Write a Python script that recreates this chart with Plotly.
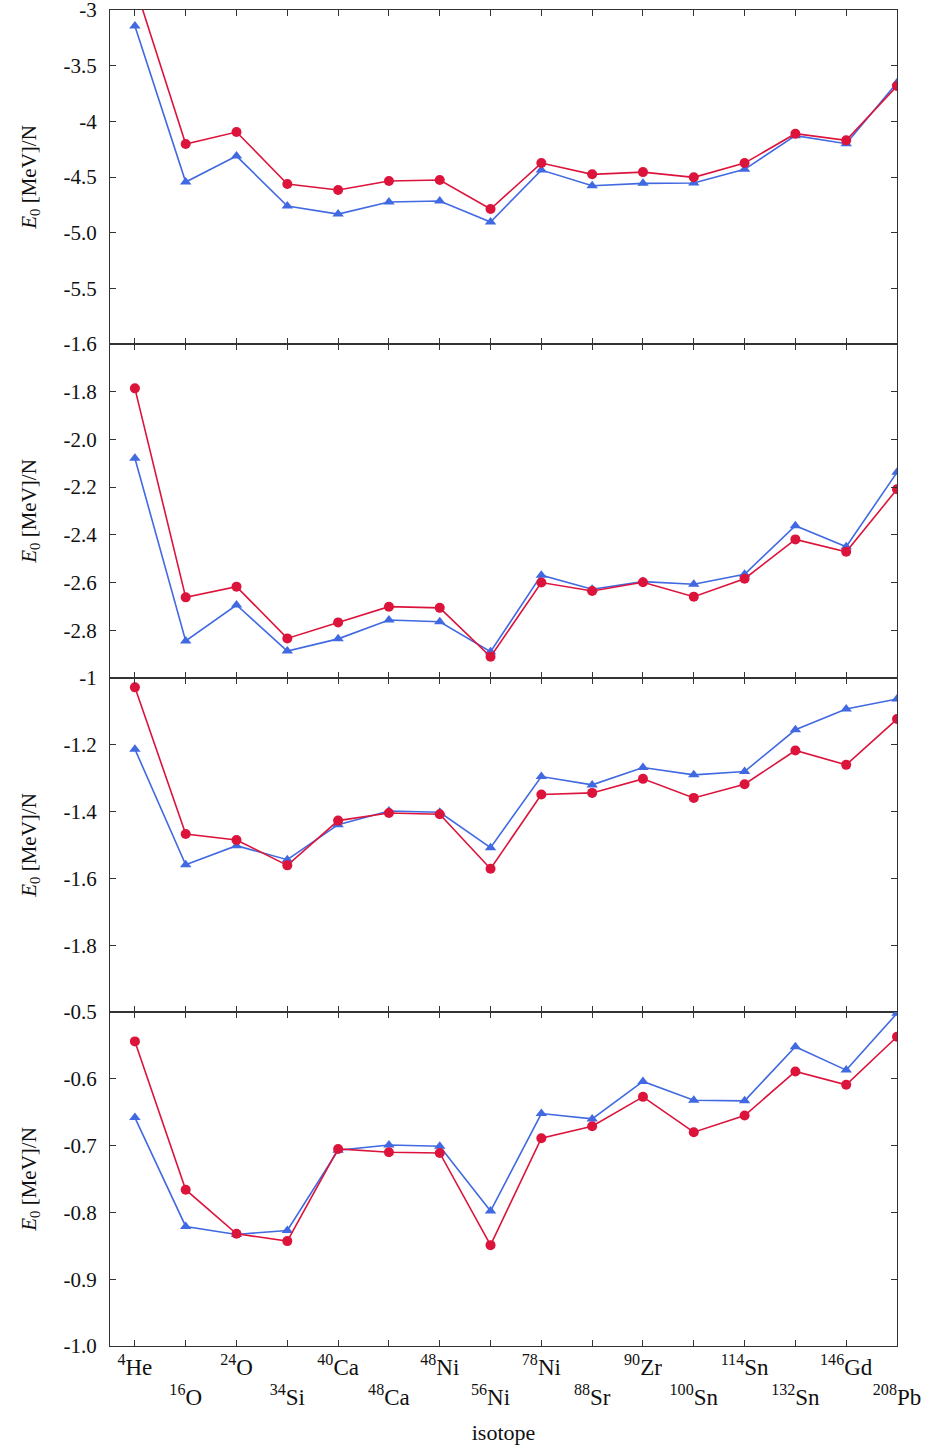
import plotly.graph_objects as go
from plotly.subplots import make_subplots

isotopes = ["<sup>4</sup>He", "<sup>16</sup>O", "<sup>24</sup>O", "<sup>34</sup>Si",
            "<sup>40</sup>Ca", "<sup>48</sup>Ca", "<sup>48</sup>Ni", "<sup>56</sup>Ni",
            "<sup>78</sup>Ni", "<sup>88</sup>Sr", "<sup>90</sup>Zr", "<sup>100</sup>Sn",
            "<sup>114</sup>Sn", "<sup>132</sup>Sn", "<sup>146</sup>Gd", "<sup>208</sup>Pb"]

# panel 1
red_1 = [-2.78, -4.204, -4.096, -4.563, -4.617, -4.536, -4.527, -4.788,
         -4.375, -4.476, -4.456, -4.503, -4.375, -4.111, -4.171, -3.683]
blue_1 = [-3.144, -4.545, -4.312, -4.761, -4.833, -4.725, -4.716, -4.905,
          -4.438, -4.578, -4.557, -4.554, -4.431, -4.129, -4.201, -3.653]
# panel 2
red_2 = [-1.786, -2.662, -2.617, -2.834, -2.767, -2.701, -2.706, -2.911,
         -2.600, -2.635, -2.599, -2.659, -2.584, -2.419, -2.471, -2.209]
blue_2 = [-2.079, -2.845, -2.694, -2.887, -2.836, -2.757, -2.764, -2.890,
          -2.569, -2.628, -2.596, -2.607, -2.565, -2.362, -2.450, -2.138]
# panel 3
red_3 = [-1.028, -1.467, -1.485, -1.561, -1.427, -1.404, -1.408, -1.571,
         -1.349, -1.344, -1.302, -1.359, -1.318, -1.217, -1.260, -1.123]
blue_3 = [-1.213, -1.559, -1.502, -1.544, -1.439, -1.398, -1.402, -1.508,
          -1.295, -1.320, -1.268, -1.290, -1.280, -1.155, -1.093, -1.063]
# panel 4
red_4 = [-0.544, -0.766, -0.832, -0.843, -0.705, -0.710, -0.711, -0.849,
         -0.689, -0.671, -0.627, -0.680, -0.655, -0.589, -0.609, -0.537]
blue_4 = [-0.658, -0.821, -0.833, -0.827, -0.707, -0.699, -0.701, -0.798,
          -0.652, -0.660, -0.604, -0.632, -0.633, -0.552, -0.587, -0.502]

y_ranges = [[-6.0, -3.0], [-3.0, -1.6], [-2.0, -1.0], [-1.0, -0.5]]
y_tickvals = [[-3.0, -3.5, -4.0, -4.5, -5.0, -5.5, -6.0],
              [-1.6, -1.8, -2.0, -2.2, -2.4, -2.6, -2.8, -3.0],
              [-1.0, -1.2, -1.4, -1.6, -1.8, -2.0],
              [-0.5, -0.6, -0.7, -0.8, -0.9, -1.0]]
y_ticktext = [["-3", "-3.5", "-4", "-4.5", "-5.0", "-5.5", ""],
              ["-1.6", "-1.8", "-2.0", "-2.2", "-2.4", "-2.6", "-2.8", ""],
              ["-1", "-1.2", "-1.4", "-1.6", "-1.8", ""],
              ["-0.5", "-0.6", "-0.7", "-0.8", "-0.9", "-1.0"]]

RED = "#DC143C"
BLUE = "#4169E1"
FONT = "Liberation Serif"
TXT = "#111111"

x = list(range(len(isotopes)))
x_text = [lab if i % 2 == 0 else "<br>" + lab for i, lab in enumerate(isotopes)]

fig = make_subplots(rows=4, cols=1, shared_xaxes=True, vertical_spacing=0)

panels = [(red_1, blue_1), (red_2, blue_2), (red_3, blue_3), (red_4, blue_4)]
for r, (red, blue) in enumerate(panels, start=1):
    fig.add_trace(go.Scatter(x=x, y=blue, mode="lines+markers",
                             line=dict(color=BLUE, width=1.6),
                             marker=dict(symbol="triangle-up", size=10, color=BLUE),
                             showlegend=False), row=r, col=1)
    fig.add_trace(go.Scatter(x=x, y=red, mode="lines+markers",
                             line=dict(color=RED, width=1.6),
                             marker=dict(symbol="circle", size=10, color=RED),
                             showlegend=False), row=r, col=1)
    fig.update_yaxes(range=y_ranges[r - 1], tickvals=y_tickvals[r - 1],
                     ticktext=y_ticktext[r - 1], row=r, col=1)

fig.update_xaxes(range=[-0.49, 15.0], tickvals=x, ticktext=x_text, tickangle=0,
                 showline=True, linecolor="#333333", linewidth=1,
                 mirror="ticks", ticks="inside", ticklen=6, tickcolor="#333333",
                 showgrid=False, zeroline=False, automargin=False,
                 ticklabeloverflow="allow",
                 tickfont=dict(family=FONT, size=23, color=TXT))
fig.update_xaxes(showticklabels=False, row=1, col=1)
fig.update_xaxes(showticklabels=False, row=2, col=1)
fig.update_xaxes(showticklabels=False, row=3, col=1)
fig.update_xaxes(showticklabels=True, row=4, col=1,
                 title=dict(text="isotope", font=dict(family=FONT, size=22, color=TXT),
                            standoff=16))

fig.update_yaxes(showline=True, linecolor="#333333", linewidth=1,
                 mirror="ticks", ticks="inside", ticklen=6, tickcolor="#333333",
                 showgrid=False, zeroline=False, ticklabelstandoff=8, automargin=False,
                 ticklabeloverflow="allow",
                 tickfont=dict(family=FONT, size=21, color=TXT))

# y-axis titles as rotated annotations, one per panel
for r in range(1, 5):
    dom = fig.layout[("yaxis" if r == 1 else f"yaxis{r}")].domain
    fig.add_annotation(text="<i>E</i><sub>0</sub> [MeV]/N", textangle=-90,
                       xref="paper", yref="paper", x=-0.102, y=(dom[0] + dom[1]) / 2,
                       xanchor="center", yanchor="middle", showarrow=False,
                       font=dict(family=FONT, size=21, color=TXT))

fig.update_layout(width=933, height=1452, plot_bgcolor="white", paper_bgcolor="white",
                  margin=dict(l=110, r=36, t=10, b=106), showlegend=False,
                  font=dict(family=FONT))

fig.write_html("out.html", config={"displayModeBar": False},
               post_script="document.body.style.margin='0';")
